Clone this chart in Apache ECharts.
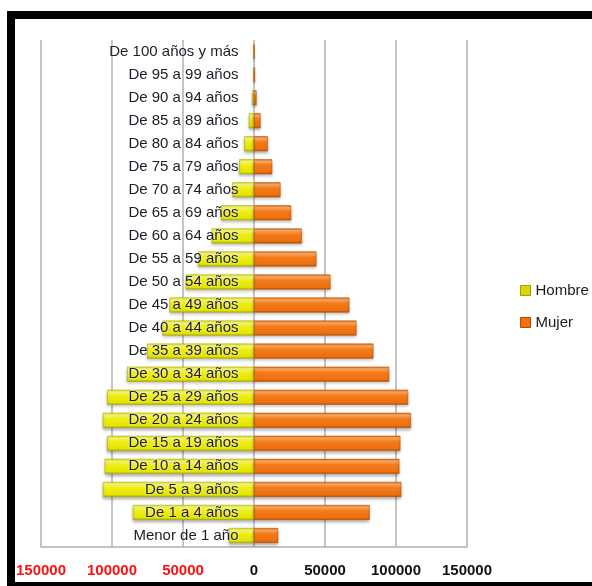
<!DOCTYPE html>
<html>
<head>
<meta charset="utf-8">
<script src="https://cdn.jsdelivr.net/npm/echarts@6/dist/echarts.min.js"></script>
<style>
html,body{margin:0;padding:0;background:#fff;}
#c{width:592px;height:586px;}
</style>
</head>
<body>
<div id="c"></div>
<script>
const categories = ["Menor de 1 año","De 1 a 4 años","De 5 a 9 años","De 10 a 14 años","De 15 a 19 años","De 20 a 24 años","De 25 a 29 años","De 30 a 34 años","De 35 a 39 años","De 40 a 44 años","De 45 a 49 años","De 50 a 54 años","De 55 a 59 años","De 60 a 64 años","De 65 a 69 años","De 70 a 74 años","De 75 a 79 años","De 80 a 84 años","De 85 a 89 años","De 90 a 94 años","De 95 a 99 años","De 100 años y más"];
const hombre = [17700,85300,106400,105200,103400,106400,103400,89300,75200,64600,59500,48200,39300,29900,23100,15300,10400,6900,3600,1300,300,100];
const mujer = [17000,81500,103800,102400,103100,110400,108500,95200,84100,72200,67200,53900,44000,33700,26200,18700,12800,9700,4600,1800,700,200];
const xTicks = [-150000,-100000,-50000,0,50000,100000,150000];

const chart = echarts.init(document.getElementById('c'));
const yellowGrad = new echarts.graphic.LinearGradient(0,0,0,1,[
  {offset:0,color:'#d8d800'},{offset:0.15,color:'#fafa80'},{offset:0.4,color:'#eeee14'},
  {offset:0.85,color:'#e4e400'},{offset:1,color:'#b0b000'}]);
const orangeGrad = new echarts.graphic.LinearGradient(0,0,0,1,[
  {offset:0,color:'#e06008'},{offset:0.15,color:'#fcae68'},{offset:0.4,color:'#f47a18'},
  {offset:0.85,color:'#ee7010'},{offset:1,color:'#b85000'}]);
chart.setOption({
  animation:false,
  graphic:[
    {type:'rect',shape:{x:7,y:11,width:585,height:8},style:{fill:'#000'}},
    {type:'rect',shape:{x:7,y:11,width:8,height:575},style:{fill:'#000'}},
    {type:'rect',shape:{x:7,y:582,width:585,height:4},style:{fill:'#000'}}
  ],
  legend:{
    orient:'vertical',left:520,top:283,padding:0,itemWidth:10,itemHeight:10,itemGap:17,
    icon:'rect',
    textStyle:{fontFamily:'Liberation Sans',fontSize:15,color:'#1a1a1a'},
    data:[{name:'Hombre',itemStyle:{color:'#d8d800',borderColor:'#a0a000',borderWidth:1}},
          {name:'Mujer',itemStyle:{color:'#f07010',borderColor:'#b04c00',borderWidth:1}}]
  },
  grid:{left:41,right:125,top:40,bottom:39,containLabel:false,outerBoundsMode:'none'},
  xAxis:{
    type:'value',min:xTicks[0],max:xTicks[xTicks.length-1],interval:50000,
    axisLine:{show:true,lineStyle:{color:'#b0b0b0',width:1.5}},
    axisTick:{show:false},
    splitLine:{show:true,lineStyle:{color:'#b0b0b0',width:1.5}},
    axisLabel:{
      margin:16,fontFamily:'Liberation Sans',fontSize:15,fontWeight:'bold',
      formatter:v=>String(Math.abs(v)),
      color:v=>(v<0?'#ff1010':'#111')
    }
  },
  yAxis:{
    type:'category',data:categories,z:10,position:'left',offset:-212.5,
    axisLine:{show:false,onZero:false},
    axisTick:{show:false},
    axisLabel:{margin:15,fontFamily:'Liberation Sans',fontSize:15,color:'#1c1c28',
      textShadowColor:'rgba(255,255,255,0.9)',textShadowBlur:2}
  },
  series:[
    {name:'Hombre',type:'bar',stack:'t',barWidth:15,
     data:hombre.map(v=>-v),
     itemStyle:{color:yellowGrad,borderColor:'#a8a800',borderWidth:0.5,shadowColor:'rgba(0,0,0,0.3)',shadowBlur:3,shadowOffsetY:2}},
    {name:'Mujer',type:'bar',stack:'t',barWidth:15,
     data:mujer,
     itemStyle:{color:orangeGrad,borderColor:'#b84c00',borderWidth:0.5,shadowColor:'rgba(0,0,0,0.3)',shadowBlur:3,shadowOffsetY:2}}
  ]
});
</script>
</body>
</html>
